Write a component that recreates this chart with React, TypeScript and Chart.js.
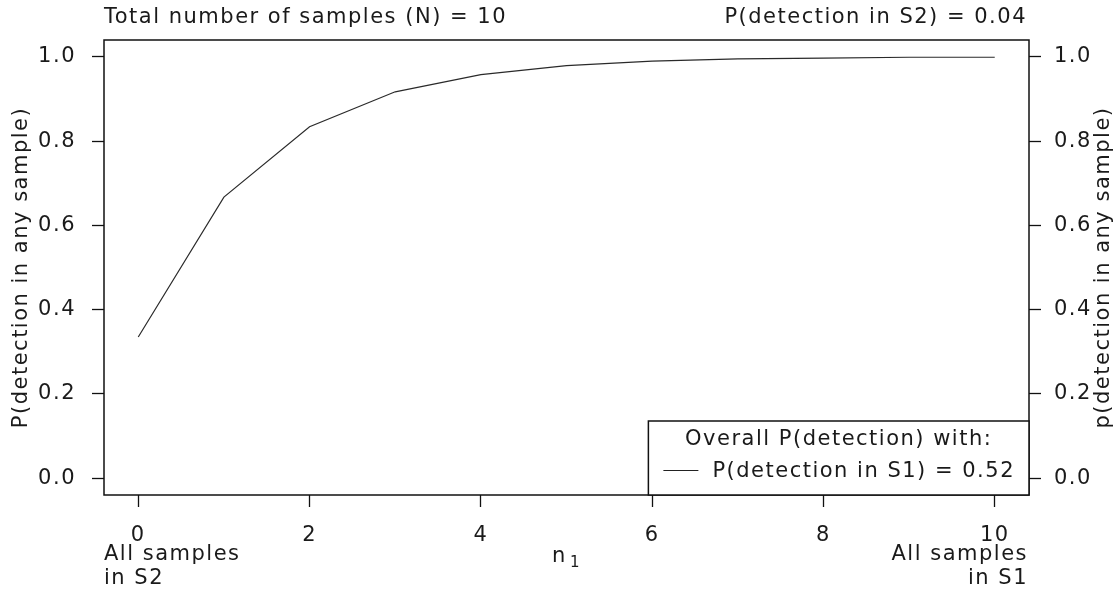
import React, { useEffect, useRef } from "react";
import { Chart, registerables } from "chart.js";

Chart.register(...registerables);

const n1Values = [0, 1, 2, 3, 4, 5, 6, 7, 8, 9, 10];
const pAnySample = [0.335, 0.667, 0.834, 0.917, 0.958, 0.979, 0.990, 0.995, 0.997, 0.999, 0.999];
const xTickValues = [0, 2, 4, 6, 8, 10];
const yTickValues = [0, 0.2, 0.4, 0.6, 0.8, 1.0];
const titleLeft = "Total number of samples (N) = 10";
const titleRight = "P(detection in S2) = 0.04";
const yTitleLeft = "P(detection in any sample)";
const yTitleRight = "p(detection in any sample)";
const legendTitle = "Overall P(detection) with:";
const legendEntry = "P(detection in S1) = 0.52";
const xEndLeft = ["All samples", "in S2"];
const xEndRight = ["All samples", "in S1"];

const FONT = "DejaVu Sans";
const FS = 21;
const TXT = "#1a1a1a";
const LS = "1.5px";

const spacingPlugin = {
  id: "spacing",
  beforeLayout(chart: any) {
    chart.ctx.letterSpacing = LS;
  },
  beforeDraw(chart: any) {
    chart.ctx.letterSpacing = LS;
  },
};

const decorPlugin = {
  id: "decor",
  afterDraw(chart: any) {
    const ctx = chart.ctx;
    const a = chart.chartArea;
    ctx.save();
    ctx.letterSpacing = LS;
    // box
    ctx.strokeStyle = "#111";
    ctx.lineWidth = 1.5;
    ctx.strokeRect(a.left, a.top, a.right - a.left, a.bottom - a.top);

    ctx.fillStyle = TXT;
    ctx.font = `${FS}px '${FONT}'`;
    // titles
    ctx.textBaseline = "middle";
    ctx.textAlign = "left";
    ctx.fillText(titleLeft, a.left, a.top - 22);
    ctx.textAlign = "right";
    ctx.fillText(titleRight, a.right - 2, a.top - 22);

    // x end labels
    ctx.textAlign = "left";
    ctx.fillText(xEndLeft[0], a.left, a.bottom + 60);
    ctx.fillText(xEndLeft[1], a.left, a.bottom + 84);
    ctx.textAlign = "right";
    ctx.fillText(xEndRight[0], a.right - 1, a.bottom + 60);
    ctx.fillText(xEndRight[1], a.right - 1, a.bottom + 84);

    // x axis title n_1
    const cx = (a.left + a.right) / 2;
    ctx.textBaseline = "alphabetic";
    ctx.textAlign = "left";
    const nW = ctx.measureText("n").width;
    ctx.font = `15px '${FONT}'`;
    const oneW = ctx.measureText("1").width;
    const total = nW + 3 + oneW;
    ctx.font = `${FS}px '${FONT}'`;
    ctx.fillText("n", cx - total / 2, a.bottom + 67);
    ctx.font = `15px '${FONT}'`;
    ctx.fillText("1", cx - total / 2 + nW + 3, a.bottom + 72);

    // y titles
    ctx.font = `${FS}px '${FONT}'`;
    ctx.textAlign = "center";
    ctx.textBaseline = "middle";
    const cy = (a.top + a.bottom) / 2;
    ctx.save();
    ctx.translate(22, cy);
    ctx.rotate(-Math.PI / 2);
    ctx.fillText(yTitleLeft, 0, 0);
    ctx.restore();
    ctx.save();
    ctx.translate(1104, cy);
    ctx.rotate(-Math.PI / 2);
    ctx.fillText(yTitleRight, 0, 0);
    ctx.restore();

    // legend
    ctx.font = `${FS}px '${FONT}'`;
    const tw = ctx.measureText(legendEntry).width;
    const lw = 64 + tw + 14;
    const lh = 74;
    const lx = a.right - lw;
    const ly = a.bottom - lh;
    ctx.fillStyle = "#fff";
    ctx.fillRect(lx, ly, lw, lh);
    ctx.strokeStyle = "#111";
    ctx.lineWidth = 1.5;
    ctx.strokeRect(lx, ly, lw, lh);
    ctx.fillStyle = TXT;
    ctx.textAlign = "center";
    ctx.fillText(legendTitle, lx + lw / 2, ly + 19);
    ctx.textAlign = "left";
    ctx.fillText(legendEntry, lx + 64, ly + 51);
    ctx.strokeStyle = "#222";
    ctx.lineWidth = 1.2;
    ctx.beginPath();
    ctx.moveTo(lx + 15, ly + 49.5);
    ctx.lineTo(lx + 50, ly + 49.5);
    ctx.stroke();
    ctx.restore();
  },
};

export default function App() {
  const ref = useRef<HTMLCanvasElement | null>(null);
  useEffect(() => {
    if (!ref.current) return;
    const tickFont = { family: FONT, size: FS };
    const grid = {
      drawOnChartArea: false,
      drawTicks: true,
      tickLength: 12,
      tickColor: "#111",
      tickWidth: 1.3,
      color: "#111",
    };
    const chart = new Chart(ref.current, {
      type: "line",
      data: {
        datasets: [
          {
            label: legendEntry,
            data: n1Values.map((x, i) => ({ x, y: pAnySample[i] })),
            borderColor: "#2a2a2a",
            borderWidth: 1.2,
            pointRadius: 0,
            tension: 0,
            fill: false,
          },
        ],
      },
      options: {
        animation: false,
        responsive: false,
        layout: { padding: { top: 40, left: 0, right: 0, bottom: 0 } },
        plugins: { legend: { display: false }, tooltip: { enabled: false } },
        scales: {
          x: {
            type: "linear",
            min: -0.4,
            max: 10.4,
            afterBuildTicks: (s: any) => {
              s.ticks = xTickValues.map((v) => ({ value: v }));
            },
            afterFit: (s: any) => {
              s.height = 94;
            },
            ticks: {
              font: tickFont,
              color: TXT,
              padding: 16,
              maxRotation: 0,
              autoSkip: false,
              callback: (v: any) => String(v),
            },
            grid,
            border: { display: false },
          },
          y: {
            type: "linear",
            position: "left",
            min: -0.04,
            max: 1.04,
            afterBuildTicks: (s: any) => {
              s.ticks = yTickValues.map((v) => ({ value: v }));
            },
            afterFit: (s: any) => {
              s.width = 104;
            },
            ticks: {
              font: tickFont,
              color: TXT,
              padding: 16,
              autoSkip: false,
              callback: (v: any) => Number(v).toFixed(1),
            },
            grid,
            border: { display: false },
          },
          y2: {
            type: "linear",
            position: "right",
            min: -0.04,
            max: 1.04,
            afterBuildTicks: (s: any) => {
              s.ticks = yTickValues.map((v) => ({ value: v }));
            },
            afterFit: (s: any) => {
              s.width = 91;
            },
            ticks: {
              font: tickFont,
              color: TXT,
              padding: 13,
              autoSkip: false,
              callback: (v: any) => Number(v).toFixed(1),
            },
            grid,
            border: { display: false },
          },
        },
      },
      plugins: [spacingPlugin, decorPlugin],
    } as any);
    return () => chart.destroy();
  }, []);
  return (
    <div style={{ position: "fixed", left: 0, top: 0, width: 1120, height: 589, background: "#fff" }}>
      <canvas ref={ref} width={1120} height={589} style={{ display: "block" }} />
    </div>
  );
}
